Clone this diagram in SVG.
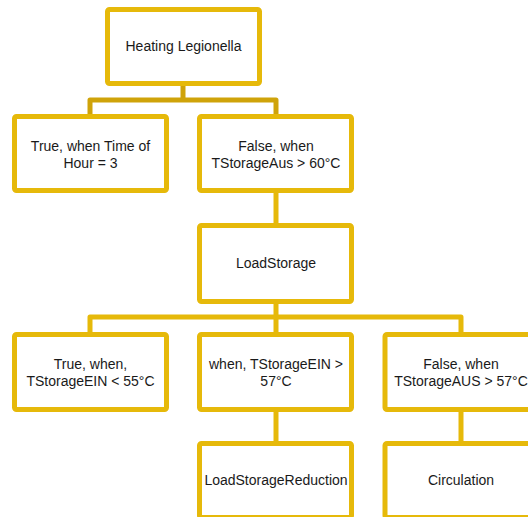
<svg xmlns="http://www.w3.org/2000/svg" width="528" height="517" viewBox="0 0 528 517">
<style>
.box{fill:#FFFFFF;stroke:#E6B90A;stroke-width:5;}
.t{font-family:"Liberation Sans",Arial,sans-serif;font-size:14px;fill:#1A1A1A;text-anchor:middle;}
.c{fill:none;stroke:#E6B90A;stroke-width:5;stroke-linejoin:round;}
.c0{fill:none;stroke:#CFA30A;stroke-width:5;stroke-linejoin:round;}
</style>
<rect width="528" height="517" fill="#FFFFFF"/>
<g id="connectors">
<path class="c0" d="M183 85 V100 M90 116 V100 H276 V116"/>
<path class="c" d="M276 192 V225"/>
<path class="c" d="M276 303 V317 M90 334 V317 H461 V334 M276 317 V334"/>
<path class="c" d="M276 411 V443"/>
<path class="c" d="M461 411 V443"/>
</g>
<g id="heating">
<rect class="box" x="107.5" y="9.5" width="152" height="74" rx="2"/>
<text class="t" x="183.5" y="51">Heating Legionella</text>
</g>
<g id="true-hour">
<rect class="box" x="14.5" y="116.5" width="152" height="74" rx="2"/>
<text class="t" x="90.5" y="151">True, when Time of</text>
<text class="t" x="90.5" y="168">Hour = 3</text>
</g>
<g id="false-aus60">
<rect class="box" x="199.5" y="116.5" width="152" height="74" rx="2"/>
<text class="t" x="276" y="151">False, when</text>
<text class="t" x="276" y="168">TStorageAus &gt; 60°C</text>
</g>
<g id="loadstorage">
<rect class="box" x="199.5" y="225.5" width="152" height="76" rx="2"/>
<text class="t" x="276" y="268">LoadStorage</text>
</g>
<g id="true-ein55">
<rect class="box" x="14.5" y="334.5" width="152" height="75" rx="2"/>
<text class="t" x="90.5" y="368.5">True, when,</text>
<text class="t" x="90.5" y="385.5">TStorageEIN &lt; 55°C</text>
</g>
<g id="when-ein57">
<rect class="box" x="199.5" y="334.5" width="152" height="75" rx="2"/>
<text class="t" x="276" y="368.5">when, TStorageEIN &gt;</text>
<text class="t" x="276" y="385.5">57°C</text>
</g>
<g id="false-aus57">
<rect class="box" x="385" y="334.5" width="152" height="75" rx="2"/>
<text class="t" x="461" y="368.5">False, when</text>
<text class="t" x="461" y="385.5">TStorageAUS &gt; 57°C</text>
</g>
<g id="loadstoragereduction">
<rect class="box" x="199.5" y="443.5" width="152" height="74" rx="2"/>
<text class="t" x="276" y="485">LoadStorageReduction</text>
</g>
<g id="circulation">
<rect class="box" x="385" y="443.5" width="152" height="74" rx="2"/>
<text class="t" x="461" y="485">Circulation</text>
</g>
</svg>
